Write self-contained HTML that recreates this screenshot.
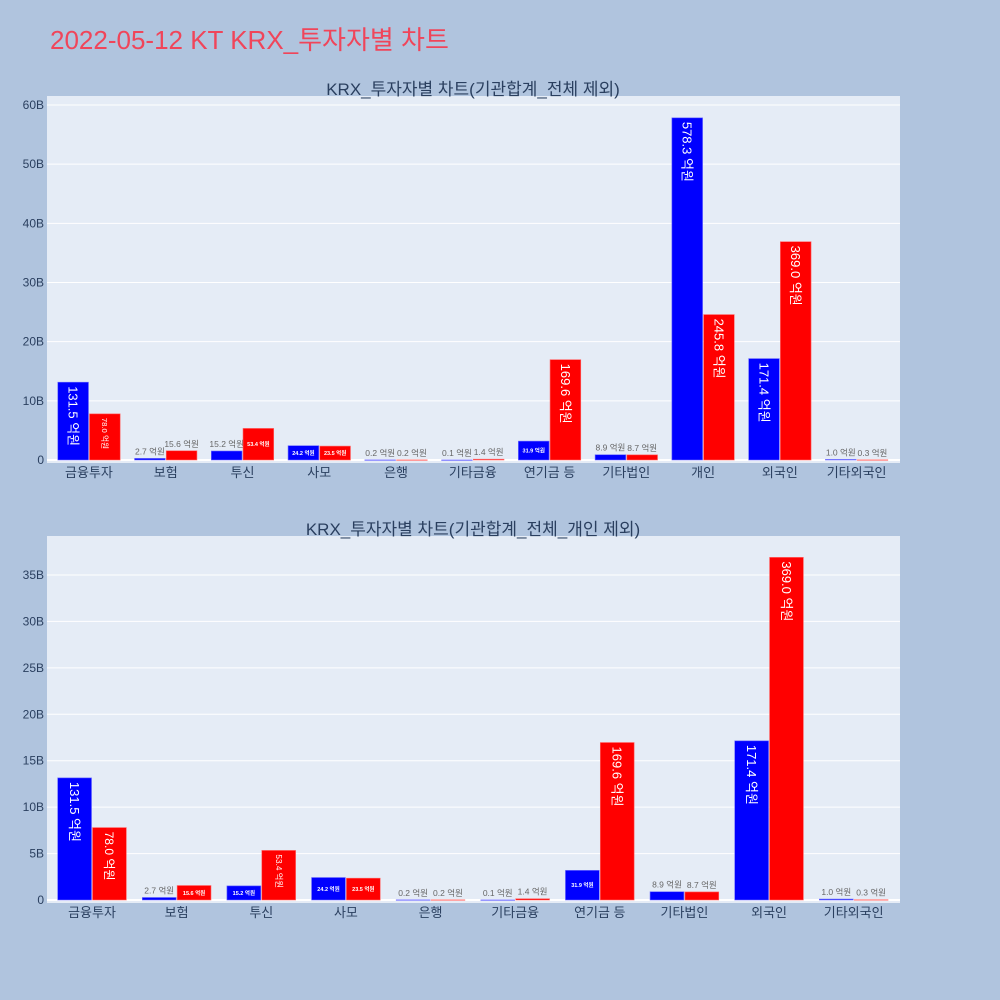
<!DOCTYPE html>
<html><head><meta charset="utf-8"><style>
body{margin:0;background:#b0c4de;font-family:"Liberation Sans","Noto Sans CJK KR",sans-serif;}
svg{display:block}
</style></head><body>
<svg id="s" width="1000" height="1000" xmlns="http://www.w3.org/2000/svg">
<rect width="1000" height="1000" fill="#b0c4de"/>
<text x="50" y="49" font-size="26" fill="#f0455a" font-family="Liberation Sans, Noto Sans CJK KR, sans-serif">2022-05-12 KT KRX_투자자별 차트</text>
</svg>
<script>
const cats1=["금융투자","보험","투신","사모","은행","기타금융","연기금 등","기타법인","개인","외국인","기타외국인"];
const buy1=[131.5,2.7,15.2,24.2,0.2,0.1,31.9,8.9,578.3,171.4,1.0];
const sell1=[78.0,15.6,53.4,23.5,0.2,1.4,169.6,8.7,245.8,369.0,0.3];
const ticks1=[0,10,20,30,40,50,60];
const cats2=["금융투자","보험","투신","사모","은행","기타금융","연기금 등","기타법인","외국인","기타외국인"];
const buy2=[131.5,2.7,15.2,24.2,0.2,0.1,31.9,8.9,171.4,1.0];
const sell2=[78.0,15.6,53.4,23.5,0.2,1.4,169.6,8.7,369.0,0.3];
const ticks2=[0,5,10,15,20,25,30,35];
const NS="http://www.w3.org/2000/svg";
const svg=document.getElementById('s');
function mk(t,a,p){const e=document.createElementNS(NS,t);for(const k in a)e.setAttribute(k,a[k]);(p||svg).appendChild(e);return e;}
function chart(o){
  const g=mk('g',{});
  
  
  const bg=mk('rect',{x:47,y:o.top,width:853,height:367,fill:'#e5ecf6'},g);
  
  
  const t=mk('text',{x:473,y:o.top-1,'text-anchor':'middle','font-size':17,fill:'#2a3f5f'},g);
  t.textContent=o.title;
  
  
  const y=v=>o.y0-v/o.tmax*(o.y0-o.yTop);
  o.ticks.forEach(v=>{
    const yy=y(v*10);
    mk('line',{x1:47,x2:900,y1:yy,y2:yy,stroke:'#fff','stroke-width':v===0?2:1},g);
    const tl=mk('text',{x:44,y:yy+4,'text-anchor':'end','font-size':12,fill:'#2a3f5f'},g);
    tl.textContent=v===0?'0':v+'B';
    
    
  });
  const n=o.cats.length,bw=(o.x1-o.x0)/n;
  o.cats.forEach((c,i)=>{
    const cx=o.x0+bw*(i+0.5);
    const cl=mk('text',{x:cx,y:o.y0+17,'text-anchor':'middle','font-size':13,fill:'#2a3f5f'},g);
    cl.textContent=c;
    
    
    [[o.buy[i],'#0000ff',-1],[o.sell[i],'#ff0000',0]].forEach(([v,col,off])=>{
      const w=bw*0.4;
      const x=cx+off*w+(off<0?-0.5:0.5);
      const yt=y(v),h=o.y0-yt;
      const r=mk('rect',{x:x,y:yt,width:w,height:Math.max(h,0.5),fill:col,stroke:col==='#0000ff'?'#6a6aff':'#ff6a6a','stroke-width':0.6},g);
      
      
      const lab=v.toFixed(1)+' 억원';
      let tx;
      if(h>=45){
        const fs=Math.min(13,h/6);
        tx=mk('text',{x:0,y:0,'font-size':fs,fill:'#fff',transform:`translate(${x+w/2-fs*0.35},${yt+4}) rotate(90)`},g);
      }else if(h>=12){
        tx=mk('text',{x:x+w/2,y:yt+h/2+2,'text-anchor':'middle','font-size':5.5,'font-weight':'bold',fill:'#fff'},g);
      }else{
        tx=mk('text',{x:x+w/2,y:yt-4,'text-anchor':'middle','font-size':8.5,fill:'#666'},g);
      }
      tx.textContent=lab;
      
      
    });
  });
}
chart({name:'chart-including-individual',title:'KRX_투자자별 차트(기관합계_전체 제외)',top:96,y0:460,yTop:105,tmax:600,ticks:ticks1,cats:cats1,buy:buy1,sell:sell1,x0:50.6,x1:895});
chart({name:'chart-excluding-individual',title:'KRX_투자자별 차트(기관합계_전체_개인 제외)',top:536,y0:900,yTop:575,tmax:350,ticks:ticks2,cats:cats2,buy:buy2,sell:sell2,x0:49.7,x1:896});
</script>
</body></html>
